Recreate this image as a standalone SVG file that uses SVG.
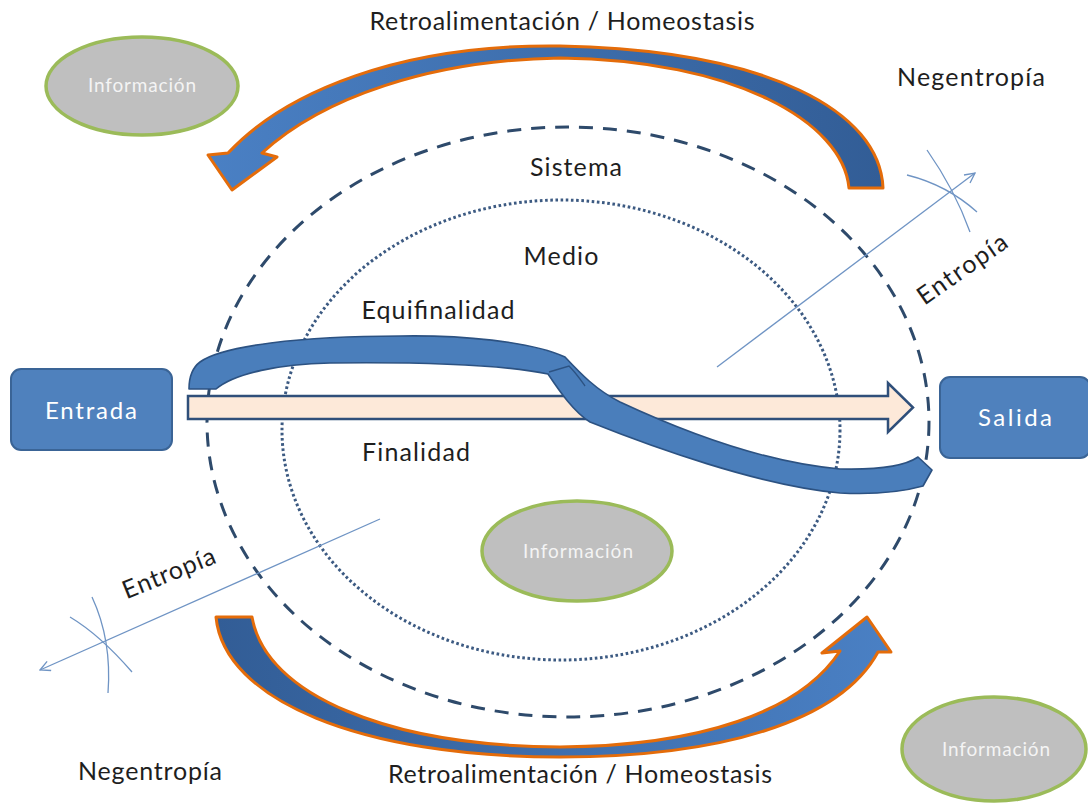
<svg xmlns="http://www.w3.org/2000/svg" width="1088" height="804" viewBox="0 0 1088 804">
<defs>
<style>
.lbl{font-family:Lato,"Liberation Sans",sans-serif;font-size:25px;fill:#1e1e1e}
.box{fill:#4f81bd;stroke:#3a6496;stroke-width:2}
.boxt{font-family:Lato,"Liberation Sans",sans-serif;font-size:24px;fill:#ffffff;text-anchor:middle}
.info{fill:#bfbfbf;stroke:#9bbb59;stroke-width:3.5}
.infot{font-family:Lato,"Liberation Sans",sans-serif;font-size:19px;fill:#f4f4f4;text-anchor:middle}
.fb{stroke:#e46c0a;stroke-width:3;stroke-linejoin:round}
.ent{fill:none;stroke:#6f94c4;stroke-width:1.3}
</style>
<linearGradient id="gTop" x1="0" y1="0" x2="1" y2="0">
<stop offset="0" stop-color="#4a80c4"/><stop offset="1" stop-color="#325d96"/>
</linearGradient>
<linearGradient id="gBot" x1="0" y1="0" x2="1" y2="0">
<stop offset="0" stop-color="#325d96"/><stop offset="1" stop-color="#4a80c4"/>
</linearGradient>
<marker id="openArrow" viewBox="0 0 12 12" refX="11" refY="6" markerWidth="12" markerHeight="12" markerUnits="userSpaceOnUse" orient="auto">
<path d="M1,1 L11,6 L1,11" fill="none" stroke="#6f94c4" stroke-width="1.3"/>
</marker>
</defs>
<rect width="1088" height="804" fill="#ffffff"/>

<g id="sistema">
<ellipse cx="568" cy="422" rx="361" ry="295" fill="none" stroke="#2e4a6b" stroke-width="3" stroke-dasharray="14 10"/>
<text class="lbl" x="576" y="176" text-anchor="middle" textLength="92">Sistema</text>
</g>
<g id="medio">
<ellipse cx="561" cy="430" rx="279" ry="230" fill="none" stroke="#3c5a82" stroke-width="3" stroke-dasharray="2.6 2.6"/>
<text class="lbl" x="561" y="265" text-anchor="middle" textLength="75">Medio</text>
</g>

<g id="info-top">
<ellipse class="info" cx="142" cy="86" rx="96" ry="49"/>
<text class="infot" x="142" y="92" textLength="108">Información</text>
</g>
<g id="info-center">
<ellipse class="info" cx="577" cy="551" rx="95" ry="50"/>
<text class="infot" x="578" y="558" textLength="110">Información</text>
</g>
<g id="info-bottom">
<ellipse class="info" cx="994" cy="749" rx="92" ry="52"/>
<text class="infot" x="996" y="756" textLength="108">Información</text>
</g>

<g id="entrada">
<rect class="box" x="11" y="369" width="161" height="81" rx="10"/>
<text class="boxt" x="91" y="419" textLength="92">Entrada</text>
</g>
<g id="salida">
<rect class="box" x="940" y="377" width="150" height="81" rx="10"/>
<text class="boxt" x="1015" y="426" textLength="74">Salida</text>
</g>

<g id="connectors">
<path class="fb" fill="url(#gTop)" d="M883,188 C880,112 770,50 560,46 C400,44 285,92 228,153 L208,155 L232,190 L277,157 L262,153 C322,98 430,60 560,58 C735,60 843,122 849,188 Z"/>
<path class="fb" fill="url(#gBot)" d="M216,617 C224,700 360,757 560,757 C720,757 840,722 878,652 L891,652 L867,617 L822,653 L840,651 C800,712 700,746 560,747 C390,746 266,696 252,617 Z"/>
<path d="M188,396 L888,396 L888,383 L913,407.5 L888,432 L888,419 L188,419 Z" fill="#fde9d9" stroke="#2f4f7a" stroke-width="2.5" stroke-linejoin="miter"/>
<path d="M189,389 L216,389 C235,373 280,364 330,363 C420,362 500,364 548,374 C560,392 574,412 590,422 C650,446 760,486 840,493 C880,495 905,491 923,486 L932,470 L918,457 C905,466 880,470 840,469 C760,462 680,430 620,402 C596,390 580,373 565,357 C530,341 460,335 400,336 C300,336 222,346 200,362 C192,368 189,376 189,389 Z" fill="#4a7ebb" stroke="#2c5282" stroke-width="1.6" stroke-linejoin="round"/>
<path d="M549,372 L569,366 C576,373 580,379 585,386" fill="none" stroke="#2c5282" stroke-width="1.4"/>
<line class="ent" x1="717" y1="367" x2="975" y2="173" marker-end="url(#openArrow)"/>
<path class="ent" d="M907,175 Q947,185 977,212"/>
<path class="ent" d="M927,150 Q955,190 970,232"/>
<line class="ent" x1="380" y1="519" x2="40" y2="670" marker-end="url(#openArrow)"/>
<path class="ent" d="M70,617 Q100,635 132,672"/>
<path class="ent" d="M92,597 Q112,640 108,693"/>
</g>

<g id="labels">
<text class="lbl" x="562" y="30" text-anchor="middle" textLength="385">Retroalimentación / Homeostasis</text>
<text class="lbl" x="971" y="86" text-anchor="middle" textLength="148">Negentropía</text>
<text class="lbl" x="438" y="319" text-anchor="middle" textLength="153">Equifinalidad</text>
<text class="lbl" x="416" y="461" text-anchor="middle" textLength="108">Finalidad</text>
<text class="lbl" transform="translate(967,276) rotate(-35)" x="0" y="0" text-anchor="middle" textLength="104">Entropía</text>
<text class="lbl" transform="translate(172,581) rotate(-22)" x="0" y="0" text-anchor="middle" textLength="98">Entropía</text>
<text class="lbl" x="150" y="780" text-anchor="middle" textLength="144">Negentropía</text>
<text class="lbl" x="580" y="783" text-anchor="middle" textLength="384">Retroalimentación / Homeostasis</text>
</g>
</svg>
